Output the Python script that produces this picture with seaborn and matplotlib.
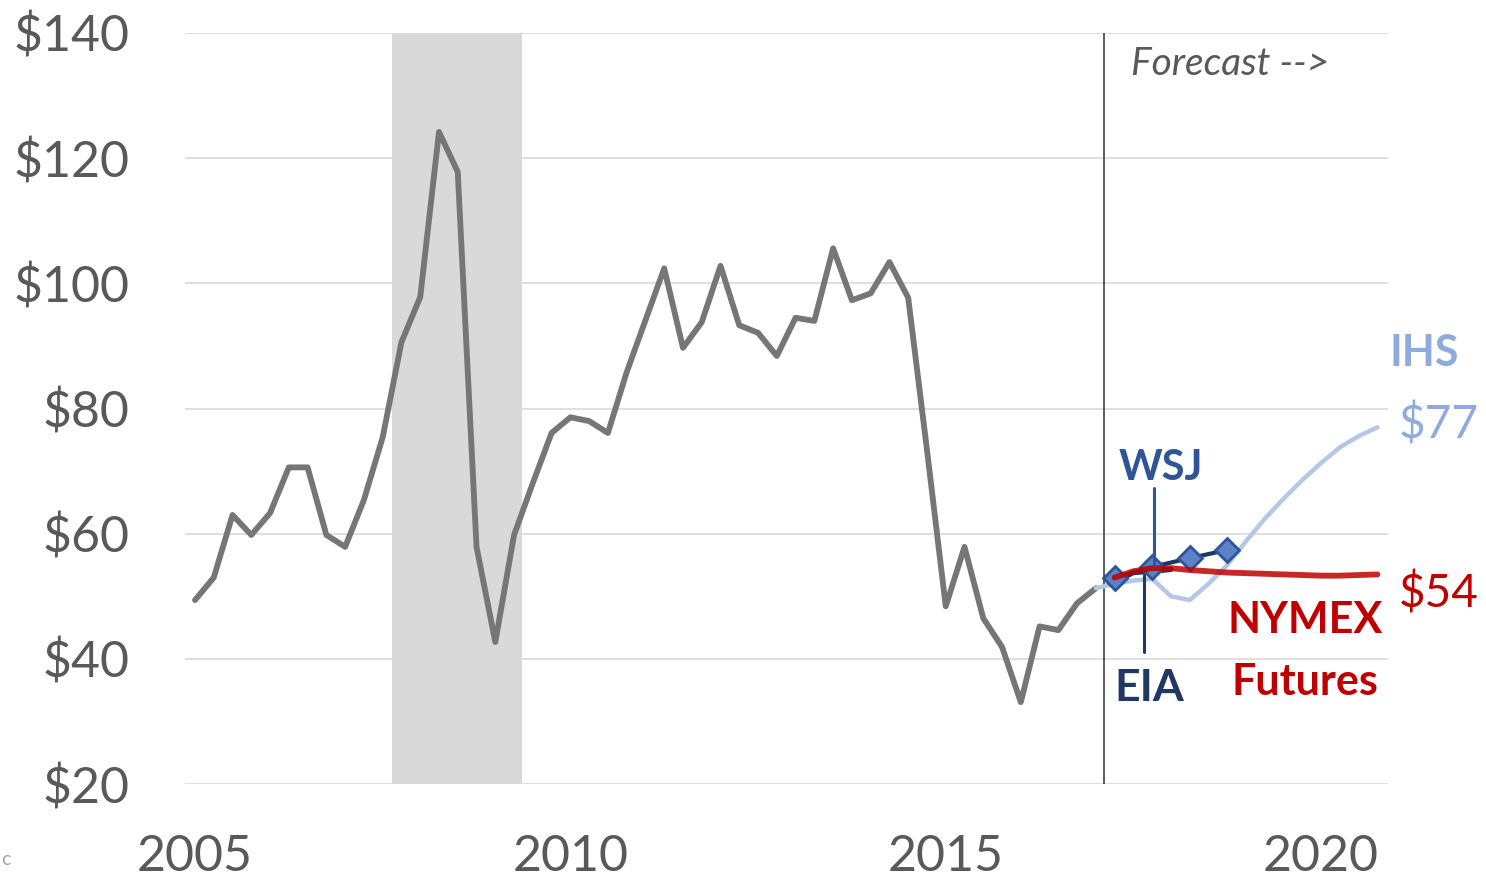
import numpy as np
import pandas as pd
import matplotlib
matplotlib.use("Agg")
import matplotlib.pyplot as plt
import seaborn as sns

# quarterly oil price history (2005 Q1 .. 2017 Q1)
hist_price = [49.4, 53.0, 63.0, 59.8, 63.3, 70.6, 70.6, 59.8, 57.9, 65.4,
              75.4, 90.6, 97.8, 124.2, 117.8, 57.9, 42.7, 59.8, 68.1, 76.1,
              78.6, 78.0, 76.1, 85.8, 94.1, 102.4, 89.7, 93.8, 102.8, 93.3,
              92.1, 88.4, 94.5, 94.0, 105.6, 97.3, 98.4, 103.4, 97.7, 73.4,
              48.4, 57.9, 46.5, 41.9, 33.1, 45.2, 44.6, 48.9, 51.3]
hist_year = [2005 + 0.25 * i for i in range(len(hist_price))]

ihs_year = [2017.0, 2017.25, 2017.5, 2017.75, 2018.0, 2018.25, 2018.5, 2018.75,
            2019.0, 2019.25, 2019.5, 2019.75, 2020.0, 2020.25, 2020.5, 2020.75]
ihs_price = [51.3, 52.0, 52.5, 52.8, 50.0, 49.4, 52.0, 55.0,
             58.8, 62.4, 65.6, 68.6, 71.3, 73.8, 75.6, 77.0]

nymex_year = [2017.25, 2017.5, 2017.75, 2018.0, 2018.25, 2018.5, 2018.75, 2019.0,
              2019.25, 2019.5, 2019.75, 2020.0, 2020.25, 2020.5, 2020.75]
nymex_price = [53.0, 54.0, 54.5, 54.5, 54.2, 54.0, 53.8, 53.7,
               53.6, 53.5, 53.4, 53.3, 53.3, 53.4, 53.5]

eia_year = [2017.25, 2017.5, 2017.75, 2018.0]
eia_price = [52.3, 53.8, 54.0, 54.3]

wsj_year = [2017.25, 2017.75, 2018.25, 2018.75]
wsj_price = [52.9, 54.7, 56.1, 57.4]

recession = (2007.62, 2009.36)
forecast_start = 2017.11
y_ticks = [20, 40, 60, 80, 100, 120, 140]
x_ticks = [2005, 2010, 2015, 2020]

sns.set_style("white")
plt.rcParams['font.family'] = ['Lato', 'DejaVu Sans']

fig = plt.figure(figsize=(14.86, 8.82), dpi=100)
ax = fig.add_axes([0.1245, 0.111, 0.8095, 0.8516])

ax.axvspan(recession[0], recession[1], color="#D9D9D9", lw=0, zorder=0)
for yv in y_ticks:
    ax.axhline(yv, color="#D9D9D9", lw=1.2, zorder=0.5)
ax.axvline(forecast_start, color="#404040", lw=1.2, zorder=1)

sns.lineplot(x=hist_year, y=hist_price, ax=ax, color="#767676", lw=4.2, zorder=3)
sns.lineplot(x=ihs_year, y=ihs_price, ax=ax, color="#B4C7E7", lw=3.2, zorder=3)
sns.lineplot(x=eia_year, y=eia_price, ax=ax, color="#203864", lw=3.8, zorder=4)
sns.lineplot(x=wsj_year, y=wsj_price, ax=ax, color="#203864", lw=3.0, zorder=4,
             marker="D", markersize=12, markerfacecolor="#5B81C6",
             markeredgecolor="#2F5597", markeredgewidth=2)
sns.lineplot(x=nymex_year, y=nymex_price, ax=ax, color="#C00000", lw=4.2,
             alpha=0.85, zorder=5)

# annotation leaders
ax.plot([2017.77, 2017.77], [55.0, 67.3], color="#2F5597", lw=2.2, zorder=6)
ax.plot([2017.64, 2017.64], [53.4, 41.1], color="#203864", lw=2.2, zorder=6)

ax.text(2017.87, 70.5, "WSJ", color="#2F5597", fontsize=30, fontweight="bold",
        ha="center", va="center")
ax.text(2017.71, 35.3, "EIA", color="#203864", fontsize=32, fontweight="bold",
        ha="center", va="center")
ax.text(2019.79, 46.2, "NYMEX", color="#C00000", fontsize=31, fontweight="bold",
        ha="center", va="center")
ax.text(2019.79, 36.3, "Futures", color="#C00000", fontsize=31, fontweight="bold",
        ha="center", va="center")
ax.text(2021.57, 50.5, "$54", color="#C00000", fontsize=33, ha="center",
        va="center", clip_on=False)
ax.text(2021.37, 88.9, "IHS", color="#8FAADC", fontsize=31, fontweight="bold",
        ha="center", va="center", clip_on=False)
ax.text(2021.57, 77.4, "$77", color="#8FAADC", fontsize=33, ha="center",
        va="center", clip_on=False)
ax.text(2018.79, 135.0, "Forecast -->", color="#595959", fontsize=28,
        fontstyle="italic", ha="center", va="center")

ax.set_xlim(2004.867, 2020.89)
ax.set_ylim(20, 140)
ax.set_xticks(x_ticks)
ax.set_xticklabels([str(x) for x in x_ticks])
ax.set_yticks(y_ticks)
ax.set_yticklabels([f"${v}" for v in y_ticks])
ax.tick_params(axis="both", length=0, labelsize=36, labelcolor="#595959")
ax.tick_params(axis="y", pad=40)
ax.tick_params(axis="x", pad=36)
for s in ax.spines.values():
    s.set_visible(False)
ax.set_xlabel("")
ax.set_ylabel("")

fig.text(0.001, 0.025, "c", fontsize=14, color="#A6A6A6", va="center")

fig.savefig("out.png", dpi=100)
